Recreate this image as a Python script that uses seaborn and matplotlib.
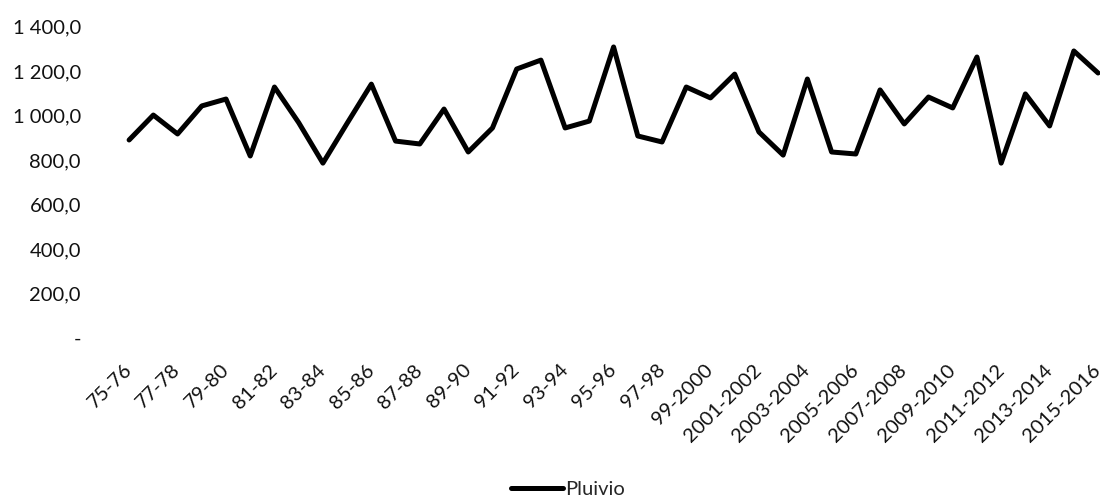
import matplotlib
matplotlib.use("Agg")
import matplotlib.pyplot as plt
import seaborn as sns
import pandas as pd
from matplotlib.ticker import FuncFormatter, FixedLocator

# Hydrological seasons (Oct-Sep) and total rainfall in mm
seasons = [
    "75-76", "76-77", "77-78", "78-79", "79-80", "80-81", "81-82", "82-83",
    "83-84", "84-85", "85-86", "86-87", "87-88", "88-89", "89-90", "90-91",
    "91-92", "92-93", "93-94", "94-95", "95-96", "96-97", "97-98", "98-99",
    "99-2000", "2000-2001", "2001-2002", "2002-2003", "2003-2004", "2004-2005",
    "2005-2006", "2006-2007", "2007-2008", "2008-2009", "2009-2010",
    "2010-2011", "2011-2012", "2012-2013", "2013-2014", "2014-2015",
    "2015-2016",
]
pluivio = [
    890, 1002, 917, 1043, 1074, 818, 1128, 968,
    786, 965, 1141, 885, 872, 1029, 836, 944,
    1209, 1249, 944, 975, 1308, 908, 881, 1128,
    1079, 1186, 926, 822, 1164, 836,
    827, 1115, 962, 1083, 1034,
    1263, 786, 1097, 953, 1290,
    1191,
]
y_ticks = [0, 200, 400, 600, 800, 1000, 1200, 1400]

df = pd.DataFrame({"Saison": seasons, "Pluivio": pluivio})

sns.set_theme(style="white")
plt.rcParams["font.family"] = ["Lato", "DejaVu Sans"]

fig = plt.figure(figsize=(11, 4.97), dpi=100)
ax = fig.add_axes([117 / 1100, 1 - 338 / 497, 1 - 117 / 1100, (338 - 26.5) / 497])

sns.lineplot(data=df, x="Saison", y="Pluivio", ax=ax, color="black",
             linewidth=3.6, label="Pluivio", sort=False)

ax.set_xlim(-0.5, len(seasons) - 1 + 0.08)
ax.set_ylim(0, 1400)


def fr_fmt(v, pos):
    if abs(v) < 1e-9:
        return "-"
    s = f"{v:,.1f}"
    return s.replace(",", " ").replace(".", ",")


ax.yaxis.set_major_locator(FixedLocator(y_ticks))
ax.yaxis.set_major_formatter(FuncFormatter(fr_fmt))

shown = list(range(0, len(seasons), 2))
ax.set_xticks(shown)
ax.set_xticklabels([seasons[i] for i in shown])

ax.tick_params(axis="y", length=0, pad=26, labelsize=14.5, labelcolor="#111111")
ax.tick_params(axis="x", length=0, pad=21, labelsize=14.5, labelcolor="#111111")
for lbl in ax.get_xticklabels():
    lbl.set_rotation(45)
    lbl.set_ha("right")
    lbl.set_va("center")
    lbl.set_rotation_mode("anchor")

ax.set_xlabel("")
ax.set_ylabel("")
for sp in ax.spines.values():
    sp.set_visible(False)
ax.grid(False)

ax.get_legend().remove()
handles, labels = ax.get_legend_handles_labels()
fig.legend(handles, labels, loc="center", bbox_to_anchor=(568 / 1100, 1 - 489 / 497),
           frameon=False, fontsize=14.5, handlelength=2.55, handletextpad=0.1,
           borderpad=0, borderaxespad=0)

fig.savefig("out.png", dpi=100)
